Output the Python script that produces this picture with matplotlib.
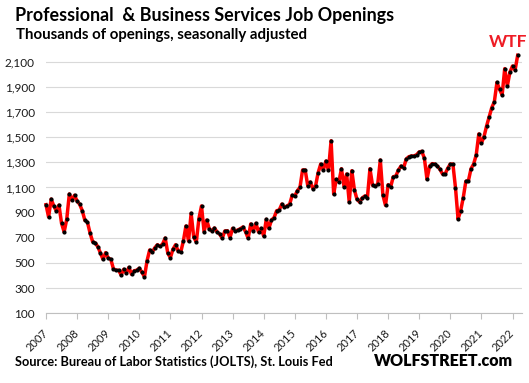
import numpy as np
import matplotlib.pyplot as plt

# monthly job openings (thousands), Jan 2007 - Mar 2022
openings = [
    963, 865, 1008, 953, 913, 960, 815, 746, 847, 1048, 1000, 1038,     # 2007
    992, 966, 915, 839, 823, 738, 669, 659, 629, 579, 529, 582,         # 2008
    539, 529, 455, 442, 442, 404, 450, 420, 465, 410, 438, 442,         # 2009
    458, 426, 391, 518, 603, 587, 621, 645, 632, 651, 698, 577,         # 2010
    542, 609, 645, 595, 587, 674, 794, 674, 895, 704, 667, 852,         # 2011
    953, 748, 841, 770, 754, 778, 746, 730, 696, 754, 756, 701,         # 2012
    775, 754, 762, 772, 786, 748, 696, 810, 754, 815, 746, 775,         # 2013
    714, 847, 775, 841, 860, 915, 921, 968, 942, 953, 966, 1038,        # 2014
    1032, 1074, 1101, 1239, 1239, 1114, 1143, 1090, 1111, 1217, 1286, 1239,  # 2015
    1310, 1239, 1471, 1048, 1165, 1143, 1249, 1106, 1207, 984, 1233, 1080,   # 2016
    1006, 984, 1016, 1032, 1016, 1249, 1117, 1111, 1127, 1318, 1038, 958,    # 2017
    1122, 1106, 1185, 1191, 1239, 1270, 1257, 1326, 1344, 1350, 1350, 1360,  # 2018
    1382, 1387, 1332, 1165, 1270, 1289, 1286, 1270, 1244, 1207, 1207, 1252,  # 2019
    1286, 1286, 1098, 849, 915, 1019, 1149, 1154, 1249, 1286, 1358, 1525,    # 2020
    1451, 1503, 1588, 1660, 1734, 1781, 1935, 1880, 1835, 2044, 1906, 2015,  # 2021
    2065, 2033, 2150,                                                        # 2022
]
start_year = 2007
years = list(range(2007, 2023))
y_ticks = list(range(100, 2101, 200))

plt.rcParams['font.family'] = ['Lato', 'DejaVu Sans']
text_col = '#1a1a1a'

fig = plt.figure(figsize=(5.29, 3.83), dpi=100)
W, H = 529, 383
ax = fig.add_axes([46 / W, 1 - 313.3 / H, (521.7 - 46) / W, (313.3 - 49) / H])

x = start_year + np.arange(len(openings)) / 12
ax.plot(x, openings, color='#ff0000', lw=2.5, marker='o', ms=2.0,
        mfc='black', mec='black', zorder=3, clip_on=False)

ax.set_xlim(2007, 2007 + (521.7 - 46) / 31.1)
ax.set_ylim(100, 2200)
ax.set_yticks(y_ticks)
ax.set_yticklabels([f'{v:,}' for v in y_ticks])
ax.set_xticks(years)
ax.set_xticklabels([str(y) for y in years], rotation=45, ha='right',
                   va='center', rotation_mode='anchor')

ax.grid(axis='y', color='#d9d9d9', lw=0.8)
ax.set_axisbelow(True)
for s in ['top', 'right', 'left']:
    ax.spines[s].set_visible(False)
ax.spines['bottom'].set_color('#bfbfbf')
ax.spines['bottom'].set_linewidth(0.8)
ax.tick_params(axis='y', length=0, pad=8, labelsize=8.5, labelcolor=text_col)
ax.tick_params(axis='x', length=4, width=0.8, color='#bfbfbf', pad=9,
               labelsize=8, labelcolor=text_col)

fig.text(15 / W, 1 - 21 / H, 'Professional  & Business Services Job Openings',
         fontsize=12.9, weight='bold', color='black', va='baseline')
fig.text(16 / W, 1 - 39.5 / H, 'Thousands of openings, seasonally adjusted',
         fontsize=10.8, weight='bold', color='black', va='baseline')
fig.text(527 / W, 1 - 47 / H, 'WTF', fontsize=12.5, weight='bold',
         color='#ee1c25', ha='right', va='baseline')
fig.text(15 / W, 1 - 366 / H, 'Source: Bureau of Labor Statistics (JOLTS), St. Louis Fed',
         fontsize=9.2, weight='bold', color='black', va='baseline')
fig.text(513 / W, 1 - 366 / H, 'WOLFSTREET.com', fontsize=11.5, weight='heavy',
         color='black', ha='right', va='baseline')

fig.savefig('out.png', dpi=100)
